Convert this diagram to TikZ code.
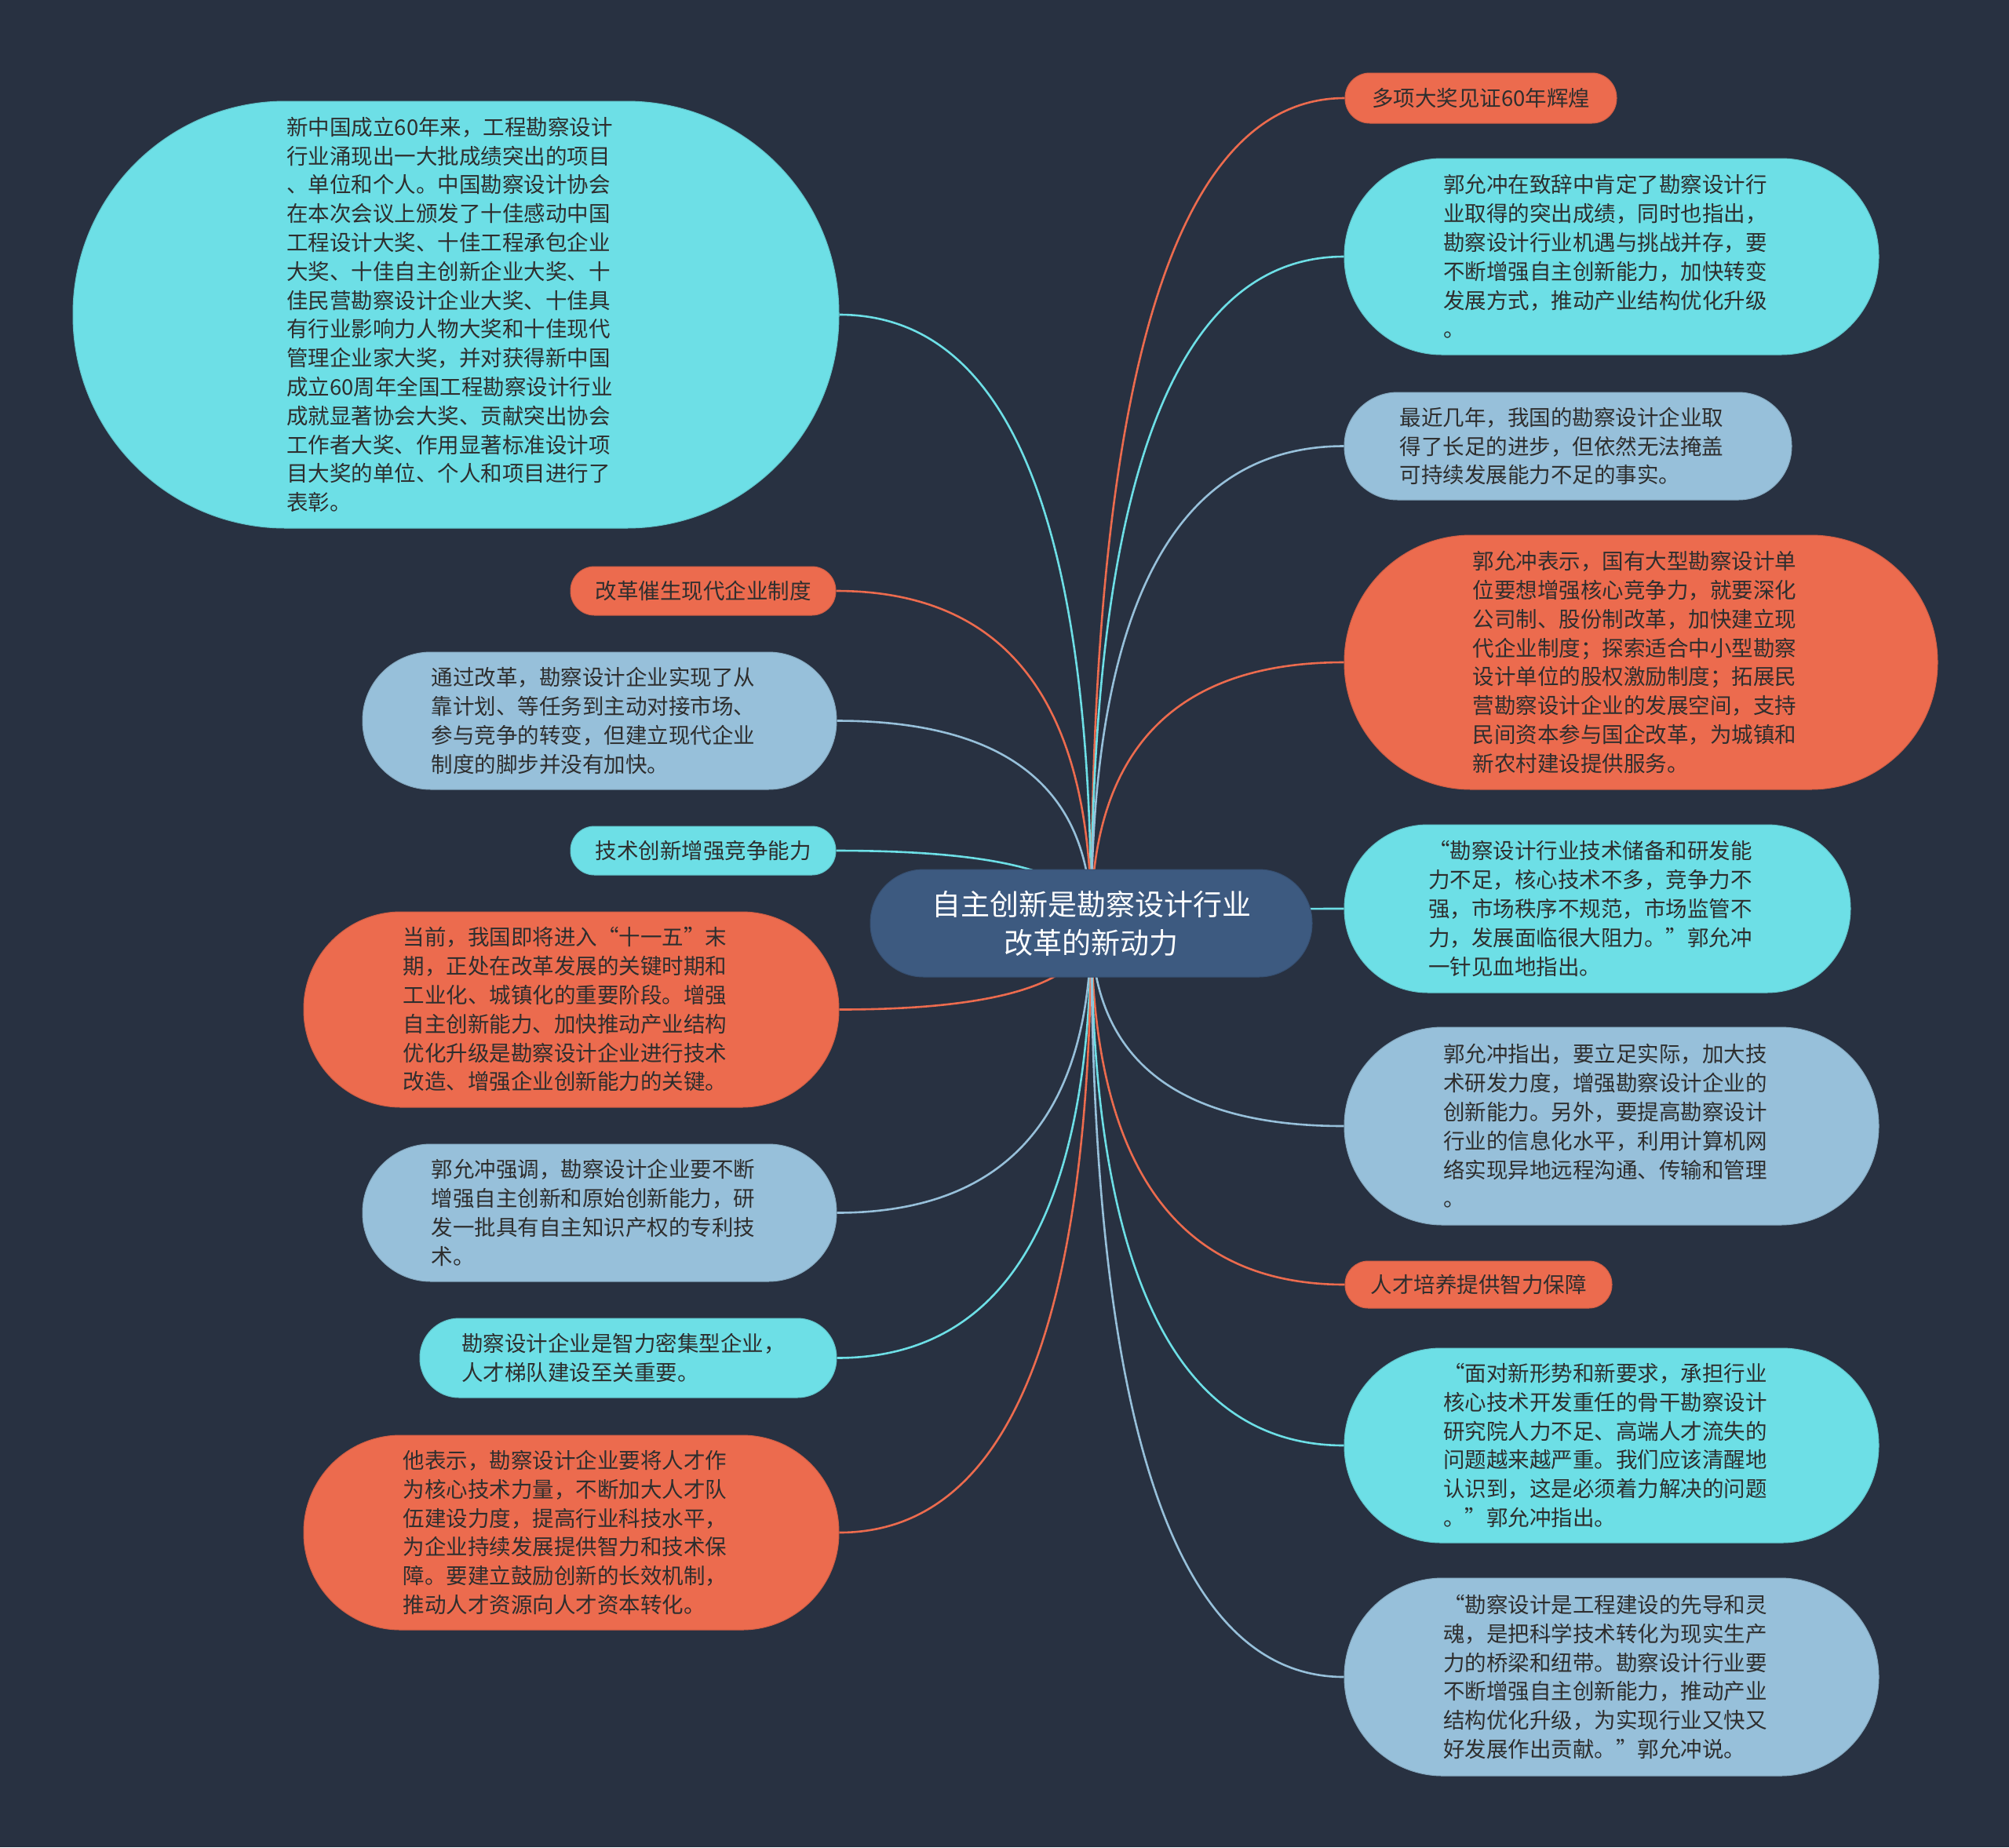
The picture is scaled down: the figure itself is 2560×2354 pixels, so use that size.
\documentclass[tikz,border=0pt]{standalone}
\usepackage{fontspec}
\setmainfont{Noto Sans CJK SC}
\usetikzlibrary{calc,backgrounds}
\definecolor{bgc}{HTML}{283141}
\definecolor{cyanc}{HTML}{6DDFE6}
\definecolor{bluec}{HTML}{97C0DA}
\definecolor{orangec}{HTML}{EC6B4E}
\definecolor{rootc}{HTML}{3D5A80}
\definecolor{txtc}{HTML}{2E2E2E}
\newcommand\mmlink[3]{%
  \coordinate (q#2) at (root.center |- #2.#3);
  \draw[link,#1] (root.center) .. controls ($(root.center)!0.6667!(q#2)$) and ($(#2.#3)!0.6667!(q#2)$) .. (#2.#3);
}
\tikzset{
  pill/.style n args={4}{draw=#4!88!black, line width=1pt, fill=#4, minimum width=#1, minimum height=#2, rounded corners=#3, inner sep=0pt},
  txt/.style={font=\fontsize{27.5}{36.8}\selectfont, text=txtc, align=left, inner sep=0pt},
  stxt/.style={font=\fontsize{27.5}{36.8}\selectfont, text=txtc},
  roottxt/.style={font=\fontsize{37}{49}\selectfont, text=white, align=center},
  link/.style={line width=2.6pt},
}
\begin{document}
\begin{tikzpicture}[x=1pt,y=-1pt]
\useasboundingbox (0,0) rectangle (2560,2354);
% root
\node[pill={563pt}{137pt}{68pt}{rootc}, roottxt] (root) at (1390.5,1176.5) {自主创新是勘察设计行业\\改革的新动力};
% left side
\node[pill={976pt}{544pt}{271pt}{cyanc}] (L1) at (581,401) {};
\node[txt] (L1t) at ($(L1.center)+(-8,0)$) {新中国成立60年来，工程勘察设计\\行业涌现出一大批成绩突出的项目\\、单位和个人。中国勘察设计协会\\在本次会议上颁发了十佳感动中国\\工程设计大奖、十佳工程承包企业\\大奖、十佳自主创新企业大奖、十\\佳民营勘察设计企业大奖、十佳具\\有行业影响力人物大奖和十佳现代\\管理企业家大奖，并对获得新中国\\成立60周年全国工程勘察设计行业\\成就显著协会大奖、贡献突出协会\\工作者大奖、作用显著标准设计项\\目大奖的单位、个人和项目进行了\\表彰。};
\node[pill={338pt}{62pt}{30.5pt}{orangec}, stxt] (L2) at (896,753) {改革催生现代企业制度};
\node[pill={604pt}{175pt}{87pt}{bluec}] (L3) at (764,918.5) {};
\node[txt] (L3t) at ($(L3.center)+(-8,0)$) {通过改革，勘察设计企业实现了从\\靠计划、等任务到主动对接市场、\\参与竞争的转变，但建立现代企业\\制度的脚步并没有加快。};
\node[pill={338pt}{62pt}{30.5pt}{cyanc}, stxt] (L4) at (896,1084) {技术创新增强竞争能力};
\node[pill={682pt}{249pt}{124pt}{orangec}] (L5) at (728,1286.5) {};
\node[txt] (L5t) at ($(L5.center)+(-8,0)$) {当前，我国即将进入“十一五”末\\期，正处在改革发展的关键时期和\\工业化、城镇化的重要阶段。增强\\自主创新能力、加快推动产业结构\\优化升级是勘察设计企业进行技术\\改造、增强企业创新能力的关键。};
\node[pill={604pt}{175pt}{87pt}{bluec}] (L6) at (764,1545.5) {};
\node[txt] (L6t) at ($(L6.center)+(-8,0)$) {郭允冲强调，勘察设计企业要不断\\增强自主创新和原始创新能力，研\\发一批具有自主知识产权的专利技\\术。};
\node[pill={531pt}{101pt}{50pt}{cyanc}] (L7) at (800.5,1730.5) {};
\node[txt] (L7t) at ($(L7.center)+(-6,0)$) {勘察设计企业是智力密集型企业，\\人才梯队建设至关重要。};
\node[pill={682pt}{248pt}{123.5pt}{orangec}] (L8) at (728,1953) {};
\node[txt] (L8t) at ($(L8.center)+(-8,0)$) {他表示，勘察设计企业要将人才作\\为核心技术力量，不断加大人才队\\伍建设力度，提高行业科技水平，\\为企业持续发展提供智力和技术保\\障。要建立鼓励创新的长效机制，\\推动人才资源向人才资本转化。};
% right side
\node[pill={346pt}{64pt}{31.5pt}{orangec}, stxt] (R1) at (1887,125) {多项大奖见证60年辉煌};
\node[pill={681pt}{250pt}{124.5pt}{cyanc}] (R2) at (2053.5,327) {};
\node[txt] (R2t) at ($(R2.center)+(-8,0)$) {郭允冲在致辞中肯定了勘察设计行\\业取得的突出成绩，同时也指出，\\勘察设计行业机遇与挑战并存，要\\不断增强自主创新能力，加快转变\\发展方式，推动产业结构优化升级\\。};
\node[pill={570pt}{137pt}{68pt}{bluec}] (R3) at (1998,568.5) {};
\node[txt] (R3t) at ($(R3.center)+(-8,0)$) {最近几年，我国的勘察设计企业取\\得了长足的进步，但依然无法掩盖\\可持续发展能力不足的事实。};
\node[pill={756pt}{324pt}{161.5pt}{orangec}] (R4) at (2091,844) {};
\node[txt] (R4t) at ($(R4.center)+(-8,0)$) {郭允冲表示，国有大型勘察设计单\\位要想增强核心竞争力，就要深化\\公司制、股份制改革，加快建立现\\代企业制度；探索适合中小型勘察\\设计单位的股权激励制度；拓展民\\营勘察设计企业的发展空间，支持\\民间资本参与国企改革，为城镇和\\新农村建设提供服务。};
\node[pill={645pt}{214pt}{106.5pt}{cyanc}] (R5) at (2035.5,1158) {};
\node[txt] (R5t) at ($(R5.center)+(-9,0)$) {“勘察设计行业技术储备和研发能\\力不足，核心技术不多，竞争力不\\强，市场秩序不规范，市场监管不\\力，发展面临很大阻力。”郭允冲\\一针见血地指出。};
\node[pill={681pt}{252pt}{125.5pt}{bluec}] (R6) at (2053.5,1435) {};
\node[txt] (R6t) at ($(R6.center)+(-8,0)$) {郭允冲指出，要立足实际，加大技\\术研发力度，增强勘察设计企业的\\创新能力。另外，要提高勘察设计\\行业的信息化水平，利用计算机网\\络实现异地远程沟通、传输和管理\\。};
\node[pill={340pt}{60pt}{29.5pt}{orangec}, stxt] (R7) at (1884,1637) {人才培养提供智力保障};
\node[pill={681pt}{248pt}{123.5pt}{cyanc}] (R8) at (2053.5,1842) {};
\node[txt] (R8t) at ($(R8.center)+(-8,0)$) {“面对新形势和新要求，承担行业\\核心技术开发重任的骨干勘察设计\\研究院人力不足、高端人才流失的\\问题越来越严重。我们应该清醒地\\认识到，这是必须着力解决的问题\\。”郭允冲指出。};
\node[pill={681pt}{252pt}{125.5pt}{bluec}] (R9) at (2053.5,2137) {};
\node[txt] (R9t) at ($(R9.center)+(-8,0)$) {“勘察设计是工程建设的先导和灵\\魂，是把科学技术转化为现实生产\\力的桥梁和纽带。勘察设计行业要\\不断增强自主创新能力，推动产业\\结构优化升级，为实现行业又快又\\好发展作出贡献。”郭允冲说。};
% background and connectors
\begin{scope}[on background layer]
\fill[bgc] (0,0) rectangle (2560,2354);
\mmlink{cyanc}{L1}{east}
\mmlink{orangec}{L2}{east}
\mmlink{bluec}{L3}{east}
\mmlink{cyanc}{L4}{east}
\mmlink{orangec}{L5}{east}
\mmlink{bluec}{L6}{east}
\mmlink{cyanc}{L7}{east}
\mmlink{orangec}{L8}{east}
\mmlink{orangec}{R1}{west}
\mmlink{cyanc}{R2}{west}
\mmlink{bluec}{R3}{west}
\mmlink{orangec}{R4}{west}
\mmlink{cyanc}{R5}{west}
\mmlink{bluec}{R6}{west}
\mmlink{orangec}{R7}{west}
\mmlink{cyanc}{R8}{west}
\mmlink{bluec}{R9}{west}
\end{scope}
\end{tikzpicture}
\end{document}
